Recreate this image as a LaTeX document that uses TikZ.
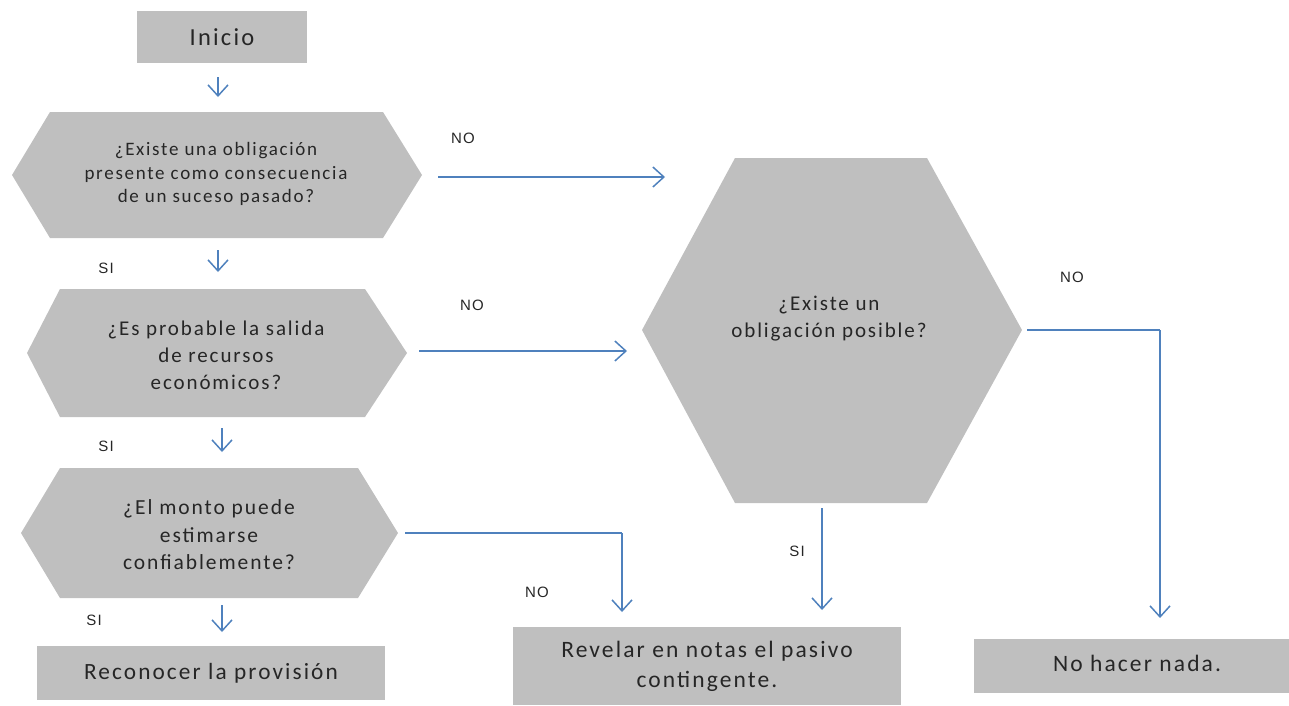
\documentclass[tikz,border=0pt]{standalone}
\usepackage{fontspec}
\setmainfont{Carlito}[LetterSpace=9]
\newfontfamily\lblfont{Liberation Sans}[LetterSpace=8]
\usetikzlibrary{arrows.meta,calc}
\definecolor{boxgray}{RGB}{191,191,191}
\definecolor{arrblue}{RGB}{79,129,189}
\definecolor{txt}{RGB}{38,38,38}
\tikzset{
  arr/.style={draw=arrblue,line width=1.5pt,-{Straight Barb[length=11pt,width=20pt,line width=1.5pt]}},
  ln/.style={draw=arrblue,line width=1.5pt},
  hexfill/.style={fill=boxgray},
  boxnode/.style={fill=boxgray,inner sep=0pt,text=txt,align=center},
  qtext/.style={text=txt,align=center,inner sep=0pt},
  lbl/.style={text=txt,inner sep=0pt,font=\lblfont\fontsize{15}{17}\selectfont},
}
\begin{document}
\begin{tikzpicture}[x=1pt,y=-1pt]
\useasboundingbox (0,0) rectangle (1289,705);
% boxes
\node[boxnode,minimum width=170pt,minimum height=52pt,font=\fontsize{24.5}{28}\selectfont] (inicio) at (222,37) {Inicio};
\node[boxnode,minimum width=348pt,minimum height=54pt,font=\fontsize{23.3}{28}\selectfont] (recon) at (211,673) {Reconocer la provisión};
\node[boxnode,minimum width=388pt,minimum height=78pt,font=\fontsize{23.5}{30}\selectfont] (revelar) at (707,666) {Revelar en notas el pasivo\\contingente.};
\node[boxnode,minimum width=315pt,minimum height=54pt] (nada) at (1131.5,666) {};
\node[qtext,font=\fontsize{23.5}{28}\selectfont] (nadat) at (1137,663) {No hacer nada.};
% hexagons
\fill[hexfill] (12,175) -- (50,112) -- (383,112) -- (422,175) -- (383,238) -- (50,238) -- cycle;
\fill[hexfill] (27,353) -- (60,289) -- (365,289) -- (407,353) -- (365,417) -- (60,417) -- cycle;
\fill[hexfill] (21,533) -- (60,468) -- (358,468) -- (398,533) -- (358,598) -- (60,598) -- cycle;
\fill[hexfill] (642,330) -- (735,158) -- (927,158) -- (1022,330) -- (927,503) -- (735,503) -- cycle;
\node[qtext,font=\fontsize{19}{23.5}\selectfont] (q1) at (216,174) {¿Existe una obligación\\presente como consecuencia\\de un suceso pasado?};
\node[qtext,font=\fontsize{21}{27}\selectfont] (q2) at (216,355) {¿Es probable la salida\\de recursos\\económicos?};
\node[qtext,font=\fontsize{21.5}{27.5}\selectfont] (q3) at (209,535) {¿El monto puede\\estimarse\\confiablemente?};
\node[qtext,font=\fontsize{21}{27}\selectfont] (q4) at (829,319) {¿Existe un\\obligación posible?};
% anchor coordinates
\coordinate (i0) at (218,77);
\coordinate (q1n) at (218,97);
\coordinate (q1s) at (218,250);
\coordinate (q2n) at (218,272);
\coordinate (q2s) at (222,428);
\coordinate (q3n) at (222,452);
\coordinate (q3s) at (222,605);
\coordinate (recn) at (222,632);
\coordinate (q1e) at (438,177);
\coordinate (q2e) at (419,351);
\coordinate (q3e) at (405,533);
\coordinate (q4w1) at (665,177);
\coordinate (q4w2) at (627,351);
\coordinate (q4e) at (1027,330);
\coordinate (q4s) at (822,508);
\coordinate (bend1) at (622,533);
\coordinate (bend2) at (1160,330);
\coordinate (revin) at (622,612);
\coordinate (revin2) at (822,610);
\coordinate (nadain) at (1160,618);
% connectors
\draw[arr] (i0) -- (q1n);
\draw[arr] (q1s) -- (q2n);
\draw[arr] (q2s) -- (q3n);
\draw[arr] (q3s) -- (recn);
\draw[arr] (q1e) -- (q4w1);
\draw[arr] (q2e) -- (q4w2);
\draw[ln] (q3e) -- (bend1);
\draw[arr] (bend1) -- (revin);
\draw[arr] (q4s) -- (revin2);
\draw[ln] (q4e) -- (bend2);
\draw[arr] (bend2) -- (nadain);
% labels
\node[lbl] (no1) at (463,138) {NO};
\node[lbl] (no2) at (472,305) {NO};
\node[lbl] (no3) at (537,592) {NO};
\node[lbl] (no4) at (1072,277) {NO};
\node[lbl] (si1) at (106,268) {SI};
\node[lbl] (si2) at (106,446) {SI};
\node[lbl] (si3) at (94,620) {SI};
\node[lbl] (si4) at (797,551) {SI};
\end{tikzpicture}
\end{document}
